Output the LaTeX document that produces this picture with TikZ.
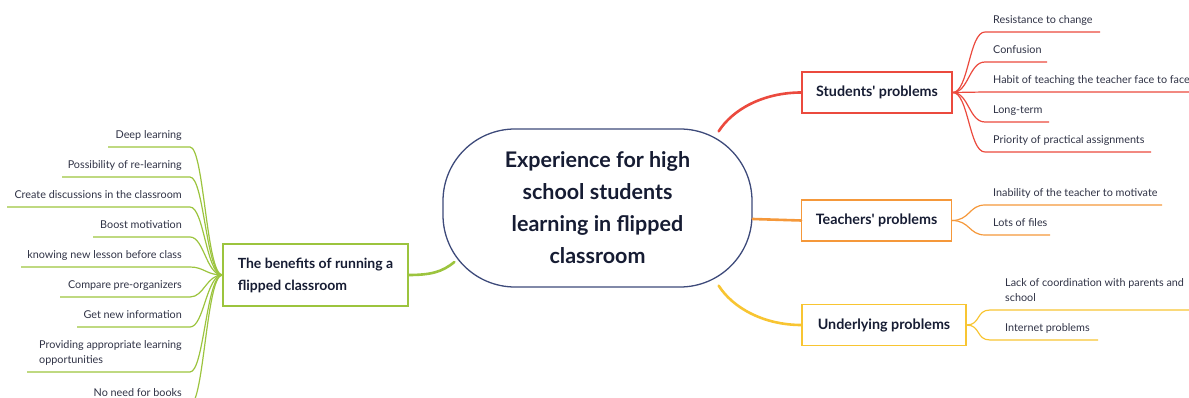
\documentclass[tikz,border=0pt]{standalone}
\usepackage{fontspec}
\setmainfont{Lato}
\definecolor{redbr}{HTML}{EB4A3E}
\definecolor{orangebr}{HTML}{F5983A}
\definecolor{yellowbr}{HTML}{F8C532}
\definecolor{greenbr}{HTML}{9CC43E}
\definecolor{hubline}{HTML}{3D4A7A}
\definecolor{ink}{HTML}{2F3245}
\definecolor{darkink}{HTML}{161C33}
\tikzstyle{hub}=[rectangle, draw=hubline, line width=1.3pt, rounded corners=72pt, minimum width=309pt, minimum height=158pt, align=center, font=\fontsize{21.5}{32}\selectfont\bfseries, text=darkink]
\tikzstyle{topic}=[rectangle, draw, line width=1.3pt, minimum height=41pt, inner xsep=14pt, font=\fontsize{14.3}{22}\selectfont\bfseries, text=darkink]
\tikzstyle{leaf}=[inner xsep=8pt, inner ysep=5pt, text depth=3pt, font=\fontsize{10.8}{15}\selectfont, text=ink]
\tikzstyle{branch}=[line width=2.6pt, line cap=round]
\tikzstyle{twig}=[line width=1.2pt]

\begin{document}
\begin{tikzpicture}[x=1pt,y=-1pt]
  \useasboundingbox (0,0) rectangle (1189,398);
  % centre and main topics
  \node[hub] (exp) at (597.5,208) {Experience for high\\school students\\learning in flipped\\classroom};
  \node[topic, draw=redbr, minimum width=150pt] (students) at (877,92.5) {Students\textquotesingle\ problems};
  \node[topic, draw=orangebr, minimum width=149pt] (teachers) at (876.5,220.5) {Teachers\textquotesingle\ problems};
  \node[topic, draw=yellowbr, minimum width=164pt] (underlying) at (884,325) {Underlying problems};
  \node[topic, draw=greenbr, minimum width=185pt, minimum height=62pt, align=left, font=\fontsize{14}{22}\selectfont\bfseries] (benefits) at (315.5,275) {The benefits of running a\\flipped classroom};

  \draw[branch, redbr] ([xshift=-34pt,yshift=-3pt]exp.north east) .. controls +(14,-22) and +(-38,0) .. (students.west);
  \draw[branch, orangebr] ([yshift=-11pt]exp.east) -- (teachers.west);
  \draw[branch, yellowbr] ([xshift=-34pt,yshift=2pt]exp.south east) .. controls +(14,22) and +(-38,0) .. (underlying.west);
  \draw[branch, greenbr] ([xshift=12pt,yshift=-54pt]exp.west) .. controls +(-12,10) and +(22,0) .. (benefits.east);

  % students
  \node[leaf, anchor=south west] (s1) at (985,32) {Resistance to change};
  \node[leaf, anchor=south west] (s2) at (985,62) {Confusion};
  \node[leaf, anchor=south west] (s3) at (985,92) {Habit of teaching the teacher face to face};
  \node[leaf, anchor=south west] (s4) at (985,122) {Long-term};
  \node[leaf, anchor=south west] (s5) at (985,152) {Priority of practical assignments};
  \tikzstyle{twigstyle}=[twig, redbr]
  \draw[twigstyle] (students.east) .. controls +(16,0) and +(-16,0) .. (s1.south west) -- ++(115,0);
  \draw[twigstyle] (students.east) .. controls +(16,0) and +(-16,0) .. (s2.south west) -- ++(62,0);
  \draw[twigstyle] (students.east) -- (s3.south west) -- ++(210,0);
  \draw[twigstyle] (students.east) .. controls +(16,0) and +(-16,0) .. (s4.south west) -- ++(64,0);
  \draw[twigstyle] (students.east) .. controls +(16,0) and +(-16,0) .. (s5.south west) -- ++(166,0);

  % teachers
  \node[leaf, anchor=south west] (t1) at (985,205) {Inability of the teacher to motivate};
  \node[leaf, anchor=south west] (t2) at (985,235) {Lots of files};
  \tikzstyle{twigstyle}=[twig, orangebr]
  \draw[twigstyle] (teachers.east) .. controls +(18,0) and +(-16,0) .. (t1.south west) -- ++(177,0);
  \draw[twigstyle] (teachers.east) .. controls +(18,0) and +(-16,0) .. (t2.south west) -- ++(65,0);

  % underlying
  \node[leaf, anchor=south west, inner xsep=15pt, align=left] (u1) at (990,310) {Lack of coordination with parents and\\school};
  \node[leaf, anchor=south west, inner xsep=15pt] (u2) at (990,340) {Internet problems};
  \tikzstyle{twigstyle}=[twig, yellowbr]
  \draw[twigstyle] (underlying.east) .. controls +(14,0) and +(-14,0) .. (u1.south west) -- ++(205,0);
  \draw[twigstyle] (underlying.east) .. controls +(14,0) and +(-14,0) .. (u2.south west) -- ++(108,0);

  % benefits
  \node[leaf, anchor=south east] (b1) at (190,147) {Deep learning};
  \node[leaf, anchor=south east] (b2) at (190,177) {Possibility of re-learning};
  \node[leaf, anchor=south east] (b3) at (190,207) {Create discussions in the classroom};
  \node[leaf, anchor=south east] (b4) at (190,237) {Boost motivation};
  \node[leaf, anchor=south east] (b5) at (190,267) {knowing new lesson before class};
  \node[leaf, anchor=south east] (b6) at (190,297) {Compare pre-organizers};
  \node[leaf, anchor=south east] (b7) at (190,327) {Get new information};
  \node[leaf, anchor=south east, align=left] (b8) at (190,372) {Providing appropriate learning\\opportunities};
  \node[leaf, anchor=south east] (b9) at (190,405) {No need for books};
  \tikzstyle{twigstyle}=[twig, greenbr]
  \draw[twigstyle] (benefits.west) .. controls +(-16,0) and +(14,0) .. (b1.south east) -- ++(-82,0);
  \draw[twigstyle] (benefits.west) .. controls +(-16,0) and +(14,0) .. (b2.south east) -- ++(-128,0);
  \draw[twigstyle] (benefits.west) .. controls +(-16,0) and +(14,0) .. (b3.south east) -- ++(-183,0);
  \draw[twigstyle] (benefits.west) .. controls +(-16,0) and +(14,0) .. (b4.south east) -- ++(-97,0);
  \draw[twigstyle] (benefits.west) .. controls +(-16,0) and +(14,0) .. (b5.south east) -- ++(-169,0);
  \draw[twigstyle] (benefits.west) .. controls +(-16,0) and +(14,0) .. (b6.south east) -- ++(-130,0);
  \draw[twigstyle] (benefits.west) .. controls +(-16,0) and +(14,0) .. (b7.south east) -- ++(-113,0);
  \draw[twigstyle] (benefits.west) .. controls +(-16,0) and +(14,0) .. (b8.south east) -- ++(-163,0);
  \draw[twigstyle] (benefits.west) .. controls +(-16,0) and +(14,0) .. (b9.south east) -- ++(-100,0);
\end{tikzpicture}
\end{document}
